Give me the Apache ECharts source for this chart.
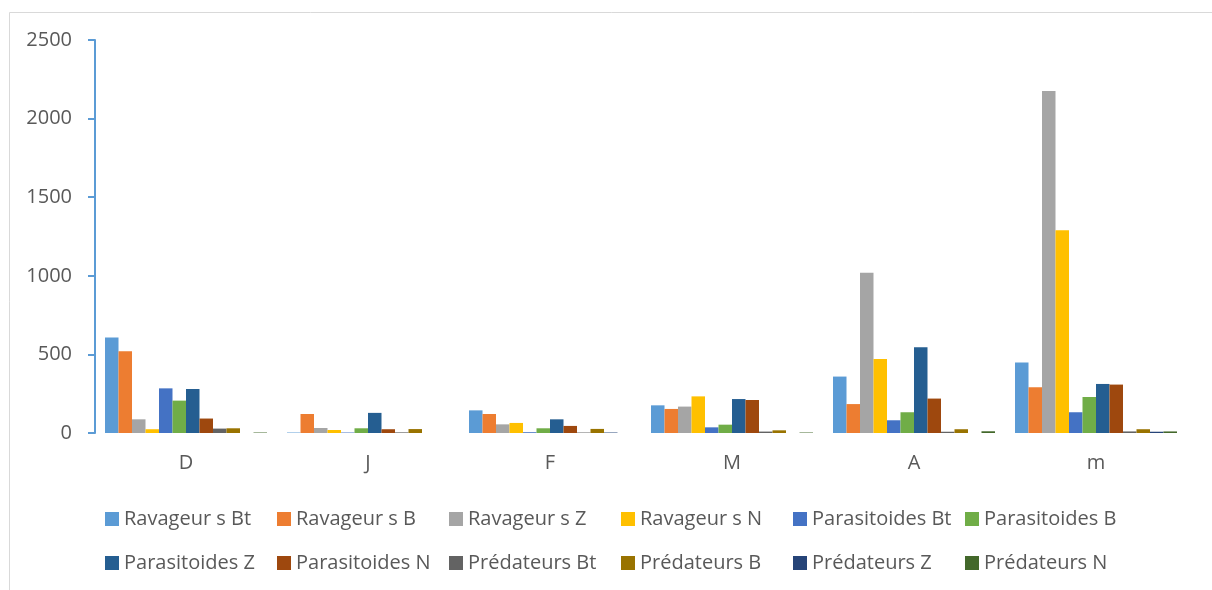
<!DOCTYPE html>
<html>
<head>
<meta charset="utf-8">
<script src="https://cdn.jsdelivr.net/npm/echarts@6/dist/echarts.min.js"></script>
<style>
  html, body { margin: 0; padding: 0; background: #ffffff; }
  #chart { width: 1212px; height: 590px; }
</style>
</head>
<body>
<div id="chart"></div>
<script>
// Months (December to May)
const categories = ['D', 'J', 'F', 'M', 'A', 'm'];

// Counts per month for each group and site
const ravageurBt = [607, 3, 144, 176, 359, 448];
const ravageurB = [520, 121, 121, 153, 184, 291];
const ravageurZ = [87, 32, 55, 168, 1020, 2176];
const ravageurN = [24, 19, 64, 233, 471, 1289];
const parasitoidesBt = [284, 3, 5, 36, 81, 132];
const parasitoidesB = [206, 30, 30, 53, 132, 229];
const parasitoidesZ = [280, 128, 87, 216, 545, 312];
const parasitoidesN = [92, 24, 45, 210, 219, 308];
const predateursBt = [28, 4, 3, 9, 8, 10];
const predateursB = [30, 25, 26, 17, 24, 24];
const predateursZ = [0, 0, 3, 0, 0, 8];
const predateursN = [3, 0, 0, 3, 11, 10];

const yTicks = [0, 500, 1000, 1500, 2000, 2500];

const seriesDefs = [
  ['Ravageur s Bt', ravageurBt, '#5B9BD5'],
  ['Ravageur s B', ravageurB, '#ED7D31'],
  ['Ravageur s Z', ravageurZ, '#A5A5A5'],
  ['Ravageur s N', ravageurN, '#FFC000'],
  ['Parasitoides Bt', parasitoidesBt, '#4472C4'],
  ['Parasitoides B', parasitoidesB, '#70AD47'],
  ['Parasitoides Z', parasitoidesZ, '#255E91'],
  ['Parasitoides N', parasitoidesN, '#9E480E'],
  ['Prédateurs Bt', predateursBt, '#636363'],
  ['Prédateurs B', predateursB, '#997300'],
  ['Prédateurs Z', predateursZ, '#264478'],
  ['Prédateurs N', predateursN, '#43682B']
];

const textColor = '#595959';
const fontFamily = '"Open Sans", "DejaVu Sans", sans-serif';

const chart = echarts.init(document.getElementById('chart'), null, { renderer: 'canvas' });

chart.setOption({
  animation: false,
  backgroundColor: '#ffffff',
  textStyle: { fontFamily: fontFamily, color: textColor },
  graphic: [{
    type: 'rect',
    left: 7, top: 10,
    shape: { x: 0, y: 0, width: 1230, height: 600 },
    style: { fill: 'none', stroke: '#d9d9d9', lineWidth: 1 },
    silent: true
  }],
  grid: { left: 95, right: 25, top: 40, bottom: 157, containLabel: false },
  legend: {
    left: 105, top: 502, width: 1040,
    padding: 0,
    itemWidth: 14, itemHeight: 14, itemGap: 10,
    icon: 'rect',
    textStyle: { fontSize: 20, color: textColor, fontFamily: fontFamily, width: 143, lineHeight: 34 },
    data: seriesDefs.map(d => d[0])
  },
  xAxis: {
    type: 'category',
    data: categories,
    axisLine: { show: false },
    axisTick: { show: false },
    axisLabel: { fontSize: 20, color: textColor, margin: 20 }
  },
  yAxis: {
    type: 'value',
    min: yTicks[0], max: yTicks[yTicks.length - 1], interval: 500,
    splitLine: { show: false },
    axisLine: { show: true, lineStyle: { color: '#5B9BD5', width: 2 } },
    axisTick: { show: true, length: 7, lineStyle: { color: '#5B9BD5', width: 2 } },
    axisLabel: { fontSize: 20, color: textColor, margin: 23, formatter: v => String(v) }
  },
  series: seriesDefs.map(([name, values, color]) => ({
    name: name,
    type: 'bar',
    data: values,
    barGap: '0%',
    barCategoryGap: '11%',
    itemStyle: { color: color }
  }))
});
</script>
</body>
</html>
